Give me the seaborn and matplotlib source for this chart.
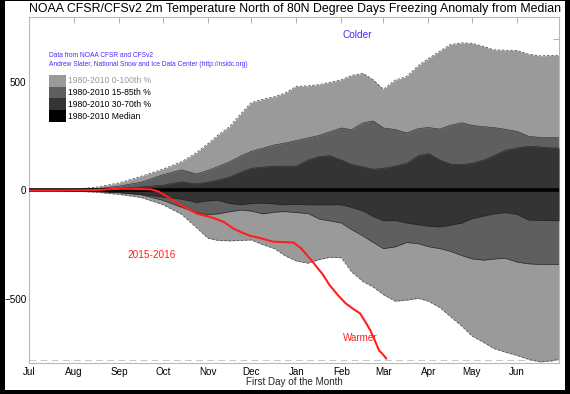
import numpy as np
import pandas as pd
import matplotlib
matplotlib.use("Agg")
import matplotlib.pyplot as plt
import seaborn as sns
from matplotlib.patches import Rectangle
from matplotlib.ticker import MultipleLocator

# days since Jul 1
days = [0, 15, 31, 46, 62, 77, 92, 105, 115, 123, 130, 138, 146, 153, 161, 169,
        176, 184, 192, 200, 207, 215, 222, 230, 237, 244, 252, 260, 268, 275,
        283, 290, 298, 305, 313, 320, 328, 336, 344, 352, 360, 365]

# 1980-2010 percentile envelopes (degree days anomaly from median)
p100_hi = [0, 2, 5, 15, 35, 65, 98, 133, 173, 215, 255, 294, 355, 405, 420, 432,
           448, 480, 482, 488, 498, 510, 530, 540, 510, 466, 508, 525, 575, 608,
           642, 672, 680, 678, 664, 648, 646, 645, 628, 620, 622, 623]
p85_hi = [0, 1, 3, 8, 20, 38, 72, 95, 76, 92, 110, 132, 160, 180, 195, 210,
          218, 230, 242, 254, 270, 288, 280, 312, 320, 288, 281, 265, 285, 290,
          283, 300, 312, 300, 294, 290, 282, 272, 250, 244, 244, 244]
p70_hi = [0, 0, 2, 5, 10, 16, 24, 40, 30, 38, 48, 62, 85, 102, 108, 112,
          112, 112, 140, 157, 160, 140, 120, 108, 98, 102, 112, 125, 160, 170,
          140, 122, 119, 125, 140, 160, 185, 196, 204, 200, 196, 196]
p30_lo = [0, 0, -2, -4, -10, -18, -30, -40, -55, -48, -45, -60, -66, -60, -58, -62,
          -66, -64, -66, -66, -66, -66, -78, -95, -120, -140, -138, -150, -158, -165,
          -168, -160, -150, -130, -118, -108, -102, -110, -136, -138, -139, -139]
p15_lo = [0, 0, -2, -5, -10, -20, -45, -78, -100, -112, -108, -98, -90, -95, -108, -100,
          -97, -102, -106, -132, -140, -150, -180, -210, -240, -268, -260, -240, -245, -259,
          -268, -280, -300, -315, -321, -316, -312, -330, -338, -341, -341, -341]
p0_lo = [0, 0, -3, -8, -18, -32, -65, -110, -170, -220, -230, -232, -230, -228, -250, -268,
         -300, -325, -335, -318, -308, -310, -375, -420, -445, -480, -510, -505, -497, -510,
         -540, -580, -625, -670, -700, -728, -745, -760, -778, -790, -785, -776]

# 2015-2016 season
season_days = [0, 20, 40, 49, 56, 63, 70, 77, 84, 89, 95, 102, 109, 116, 122, 127,
               134, 141, 147, 152, 157, 161, 168, 175, 182, 187, 191, 196, 202, 207,
               213, 218, 223, 228, 232, 235, 238, 241, 244, 246]
season_vals = [0, 0, 1, 3, 6, 8, 8, 6, 5, -5, -28, -57, -85, -108, -118, -127,
               -145, -177, -195, -209, -216, -223, -236, -238, -240, -265, -295, -335, -385, -437,
               -485, -520, -545, -567, -610, -645, -690, -737, -758, -775]

month_starts = [0, 31, 62, 92, 123, 153, 184, 215, 244, 275, 305, 336]
month_labels = ["Jul", "Aug", "Sep", "Oct", "Nov", "Dec", "Jan", "Feb", "Mar",
                "Apr", "May", "Jun"]

legend_labels = ["1980-2010 0-100th %", "1980-2010 15-85th %",
                 "1980-2010 30-70th %", "1980-2010 Median"]

c_light, c_mid, c_dark = "#9a9a9a", "#5f5f5f", "#343434"
red = "#ff1f1f"
blue = "#4a2cff"

sns.set_theme(style="white")
plt.rcParams["font.family"] = ["Liberation Sans", "DejaVu Sans"]

fig = plt.figure(figsize=(5.7, 3.94), dpi=100, facecolor="black")
# white page inside the black frame
fig.patches.append(Rectangle((0.008, 0.0102), 0.983, 0.9873, transform=fig.transFigure,
                             facecolor="white", edgecolor="none", zorder=-10))
ax = fig.add_axes([0.0514, 0.0787, 0.9293, 0.8769])
ax.set_facecolor("white")

df = pd.DataFrame({"day": days, "p100": p100_hi, "p85": p85_hi, "p70": p70_hi,
                   "p30": p30_lo, "p15": p15_lo, "p0": p0_lo})
season = pd.DataFrame({"day": season_days, "anom": season_vals})

ax.fill_between(df["day"], df["p0"], df["p100"], color=c_light, lw=0, zorder=1)
ax.fill_between(df["day"], df["p15"], df["p85"], color=c_mid, lw=0, zorder=2)
ax.fill_between(df["day"], df["p30"], df["p70"], color=c_dark, lw=0, zorder=3)
for col in ["p100", "p0"]:
    ax.plot(df["day"], df[col], color="#555555", lw=0.6, ls=(0, (3, 2)), zorder=4)
for col in ["p85", "p70", "p30", "p15"]:
    ax.plot(df["day"], df[col], color="#222222", lw=0.4, zorder=4)

ax.axhline(0, color="black", lw=2.6, zorder=5)
ax.axhline(-779, color="#c8c8c8", lw=0.8, ls=(0, (6, 4)), zorder=0)
sns.lineplot(data=season, x="day", y="anom", color=red, lw=1.5, ax=ax, zorder=6)

ax.set_xlim(0, 365)
ax.set_ylim(-795, 797)
ax.set_xticks(month_starts)
ax.set_xticklabels(month_labels)
ax.set_yticks([-500, 0, 500])
ax.yaxis.set_minor_locator(MultipleLocator(100))
ax.tick_params(axis="both", which="both", direction="in", top=True, right=True,
               colors="#b0b0b0", labelcolor="black", labelsize=7.1, width=0.7)
ax.tick_params(axis="x", length=4.3, pad=3)
ax.tick_params(axis="y", which="major", length=7.7, pad=2)
ax.tick_params(axis="y", which="minor", length=4.1)
for s in ax.spines.values():
    s.set_color("#b8b8b8")
    s.set_linewidth(0.8)

ax.set_xlabel("First Day of the Month", fontsize=7.1, labelpad=0)
ax.set_ylabel("")
fig.text(0.517, 0.969, "NOAA CFSR/CFSv2 2m Temperature North of 80N Degree Days Freezing Anomaly from Median",
         ha="center", va="baseline", fontsize=8.95, color="black")

ax.text(0.0378, 0.891, "Data from NOAA CFSR and CFSv2", transform=ax.transAxes,
        fontsize=4.8, color=blue, va="center")
ax.text(0.0378, 0.865, "Andrew Slater, National Snow and Ice Data Center (http://nsidc.org)",
        transform=ax.transAxes, fontsize=4.8, color=blue, va="center")

patch_colors = [c_light, c_mid, c_dark, "black"]
text_colors = ["#999999", "black", "black", "black"]
row_h = 0.034
for i, (lab, pc, tc) in enumerate(zip(legend_labels, patch_colors, text_colors)):
    y0 = 0.8336 - (i + 1) * row_h
    ax.add_patch(Rectangle((0.0372, y0), 0.032, row_h, transform=ax.transAxes,
                           facecolor=pc, edgecolor="none", zorder=7))
    ax.text(0.0736, y0 + row_h / 2, lab, transform=ax.transAxes, fontsize=6.2,
            color=tc, va="center", zorder=7)

ax.text(226, 716, "Colder", color=blue, fontsize=7.3, ha="center", va="center")
ax.text(228, -679, "Warmer", color=red, fontsize=7.1, ha="center", va="center", zorder=7)
ax.text(84, -298, "2015-2016", color=red, fontsize=7.2, ha="center", va="center")

fig.savefig("out.png", dpi=100, facecolor=fig.get_facecolor())
